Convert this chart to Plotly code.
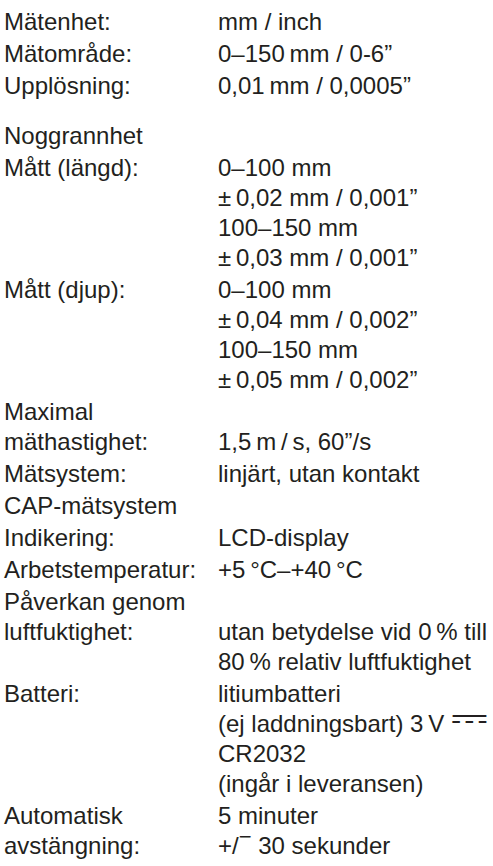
import plotly.graph_objects as go

# Specification table content (Swedish), one entry per row: label lines and value lines
row_labels = [
    ["Mätenhet:"],
    ["Mätområde:"],
    ["Upplösning:"],
    ["Noggrannhet"],
    ["Mått (längd):"],
    ["Mått (djup):"],
    ["Maximal", "mäthastighet:"],
    ["Mätsystem:"],
    ["CAP-mätsystem"],
    ["Indikering:"],
    ["Arbetstemperatur:"],
    ["Påverkan genom", "luftfuktighet:"],
    ["Batteri:"],
    ["Automatisk", "avstängning:"],
]

row_values = [
    ["mm / inch"],
    ["0–150\u2009mm / 0-6”"],
    ["0,01\u2009mm / 0,0005”"],
    [],
    ["0–100 mm", "±\u20090,02 mm / 0,001”", "100–150 mm", "±\u20090,03 mm / 0,001”"],
    ["0–100 mm", "±\u20090,04 mm / 0,002”", "100–150 mm", "±\u20090,05 mm / 0,002”"],
    ["", "1,5\u2009m\u2009/\u2009s, 60”/s"],
    ["linjärt, utan kontakt"],
    [],
    ["LCD-display"],
    ["+5\u2009°C–+40\u2009°C"],
    ["", "utan betydelse vid 0\u2009% till", "80\u2009% relativ luftfuktighet"],
    ["litiumbatteri",
     "(ej laddningsbart) 3\u2009V <span style='font-size:46px;font-family:DejaVu Sans'>⎓</span>",
     "CR2032", "(ingår i leveransen)"],
    ["5 minuter", "+/<sup><span style='font-size:22px'>\u2212</span></sup> 30 sekunder"],
]

# rows that start a new section (extra gap above)
section_starts = {3}

# ---- layout (pixel-like coordinates on a hidden axis) ----
W, H = 493, 866
FONT = 24
FIRST_BASELINE = 30
LINE_PITCH = 30
ROW_PITCH = 32
SECTION_PITCH = 50
LABEL_X = 4
VALUE_X = 218
Y_SHIFT = 0.35 * FONT - 2.5

lab_x, lab_y, lab_t = [], [], []
val_x, val_y, val_t = [], [], []
baseline = FIRST_BASELINE
for i, (labs, vals) in enumerate(zip(row_labels, row_values)):
    if i > 0:
        baseline += SECTION_PITCH if i in section_starts else ROW_PITCH
    n = max(len(labs), len(vals))
    for k in range(n):
        b = baseline + k * LINE_PITCH
        if k < len(labs) and labs[k]:
            lab_x.append(LABEL_X); lab_y.append(b - Y_SHIFT); lab_t.append(labs[k])
        if k < len(vals) and vals[k]:
            val_x.append(VALUE_X); val_y.append(b - Y_SHIFT); val_t.append(vals[k])
    baseline += (n - 1) * LINE_PITCH

font = dict(family="Liberation Sans, Arial, Helvetica, sans-serif", size=FONT, color="#231f20")

fig = go.Figure()
for xs, ys, ts in ((lab_x, lab_y, lab_t), (val_x, val_y, val_t)):
    fig.add_trace(go.Scatter(x=xs, y=ys, text=ts, mode="text",
                             textposition="middle right", textfont=font, cliponaxis=False,
                             hoverinfo="skip", showlegend=False))

fig.update_layout(
    width=W, height=H,
    margin=dict(l=0, r=0, t=0, b=0),
    paper_bgcolor="white", plot_bgcolor="white",
    xaxis=dict(range=[0, W], visible=False, fixedrange=True),
    yaxis=dict(range=[H, 0], visible=False, fixedrange=True),
)

fig.write_html("out.html", config={"displayModeBar": False},
               post_script="document.body.style.margin='0';document.body.style.overflow='hidden';")
